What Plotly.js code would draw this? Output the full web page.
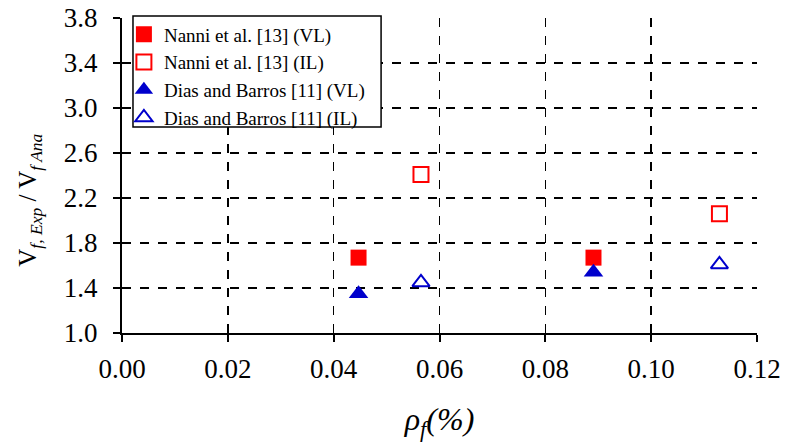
<!DOCTYPE html>
<html>
<head>
<meta charset="utf-8">
<script src="https://cdn.plot.ly/plotly-3.0.1.min.js"></script>
<style>html,body{margin:0;padding:0;background:#fff;}#chart{width:785px;height:448px;}</style>
</head>
<body>
<div id="chart"></div>
<script>
const seriesNames = ["Nanni et al. [13] (VL)", "Nanni et al. [13] (IL)", "Dias and Barros [11] (VL)", "Dias and Barros [11] (IL)"];
const nanniVL_x = [0.0447, 0.0891];
const nanniVL_y = [1.67, 1.67];
const nanniIL_x = [0.0565, 0.1129];
const nanniIL_y = [2.41, 2.06];
const diasVL_x = [0.0447, 0.0891];
const diasVL_y = [1.35, 1.54];
const diasIL_x = [0.0565, 0.1129];
const diasIL_y = [1.45, 1.61];
const xTicks = [0, 0.02, 0.04, 0.06, 0.08, 0.10, 0.12];
const xTickText = ["0.00", "0.02", "0.04", "0.06", "0.08", "0.10", "0.12"];
const yTicks = [1.0, 1.4, 1.8, 2.2, 2.6, 3.0, 3.4, 3.8];
const yTickText = ["1.0", "1.4", "1.8", "2.2", "2.6", "3.0", "3.4", "3.8"];
const yTitle = "V<sub><i>f, Exp</i></sub> / V<sub><i>f Ana</i></sub>";
const xTitle = "<i>ρ<sub>f</sub>(%)</i>";

const serif = "'Liberation Serif', 'Times New Roman', serif";
const traces = [
  {x: nanniVL_x, y: nanniVL_y, name: seriesNames[0], mode: "markers", type: "scatter",
   marker: {symbol: "square", size: 16, color: "#ff0000", line: {width: 0}}},
  {x: nanniIL_x, y: nanniIL_y, name: seriesNames[1], mode: "markers", type: "scatter",
   marker: {symbol: "square-open", size: 15, color: "#ff0000", line: {width: 2}}},
  {x: diasVL_x, y: diasVL_y, name: seriesNames[2], mode: "markers", type: "scatter",
   marker: {symbol: "triangle-up", size: 17, color: "#0000cc", line: {width: 0}}},
  {x: diasIL_x, y: diasIL_y, name: seriesNames[3], mode: "markers", type: "scatter",
   marker: {symbol: "triangle-up-open", size: 15, color: "#0000cc", line: {width: 2}}}
];
const layout = {
  width: 785, height: 448,
  margin: {l: 122, r: 28, t: 18, b: 115},
  paper_bgcolor: "#fff", plot_bgcolor: "#fff",
  font: {family: serif, color: "#000", size: 27},
  showlegend: true,
  legend: {x: 0.003, y: 1.008, xanchor: "left", yanchor: "top",
    bgcolor: "rgba(0,0,0,0)", borderwidth: 0,
    font: {family: serif, size: 19, color: "#000"}, tracegroupgap: 0, itemwidth: 30},
  shapes: [{type: "rect", xref: "paper", yref: "paper", x0: 0.0173, x1: 0.408, y0: 0.654, y1: 1.006,
    line: {color: "#000", width: 1.5}, fillcolor: "#fff", layer: "above"}],
  annotations: [{text: yTitle, xref: "paper", yref: "paper", x: 0, y: 0.42, xshift: -92,
    xanchor: "center", yanchor: "middle", textangle: -90, showarrow: false,
    font: {size: 25, family: serif, color: "#000"}}],
  xaxis: {range: [0, 0.12], tickvals: xTicks, ticktext: xTickText,
    showline: true, linecolor: "#000", linewidth: 2, mirror: false,
    ticks: "outside", ticklen: 7, tickwidth: 2, tickcolor: "#000",
    showgrid: true, gridcolor: "#000", griddash: "dash", gridwidth: 1.5,
    zeroline: false, tickfont: {size: 27, family: serif}, ticklabelstandoff: 4,
    title: {text: xTitle, font: {size: 32, family: serif}, standoff: 24}},
  yaxis: {range: [1.0, 3.8], tickvals: yTicks, ticktext: yTickText,
    showline: true, linecolor: "#000", linewidth: 2, mirror: false,
    ticks: "outside", ticklen: 7, tickwidth: 2, tickcolor: "#000",
    showgrid: true, gridcolor: "#000", griddash: "dash", gridwidth: 1.5,
    zeroline: false, tickfont: {size: 27, family: serif}, ticklabelstandoff: 10}
};
Plotly.newPlot("chart", traces, layout, {staticPlot: true, displayModeBar: false});
</script>
</body>
</html>
